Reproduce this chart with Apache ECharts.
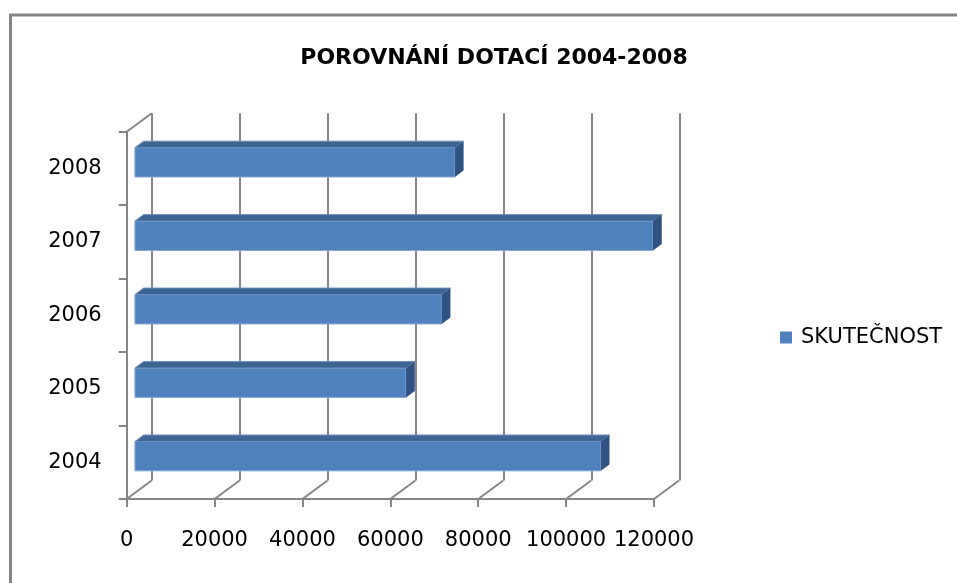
<!DOCTYPE html>
<html style="height: 100%; margin: 0">
<head>
<meta charset="UTF-8">
<title>POROVNÁNÍ DOTACÍ 2004-2008</title>
</head>
<body style="height: 100%; margin: 0; background: #fff">
<div id="container" style="width:957px;height:583px"></div>
<script type="text/javascript" src="https://cdn.jsdelivr.net/npm/echarts@6/dist/echarts.min.js"></script>
<script type="text/javascript">
	var categories = ['2004', '2005', '2006', '2007', '2008'];
	var values = [106000, 61700, 69800, 117900, 72800];
	var xTicks = [0, 20000, 40000, 60000, 80000, 100000, 120000];
	var seriesName = 'SKUTEČNOST';

	// depth of the 3D box (front plane -> back wall)
	var DX = 25, DY = -18.5;
	var F1 = 0.33, BD = 0.35;
	var gridColor = '#868686';
	var font = 'DejaVu Sans';

	var dom = document.getElementById("container");
	var myChart = echarts.init(dom);

	function barItem(params, api) {
		var v = api.value(0), c = api.value(1);
		var p0 = api.coord([0, c]);
		var p1 = api.coord([v, c]);
		var band = api.size([0, 1])[1];
		var h = band * 0.4;
		var x0 = p0[0] + DX * F1, x1 = p1[0] + DX * F1;
		var yT = p0[1] + DY * F1 - h / 2, yB = yT + h;
		var ddx = DX * BD, ddy = DY * BD;
		return {
			type: 'group',
			children: [{
				type: 'rect',
				shape: {x: x0, y: yT, width: x1 - x0, height: h},
				style: {fill: '#4F81BD', stroke: '#86A6D2', lineWidth: 1}
			}, {
				type: 'polygon',
				shape: {points: [[x0, yT], [x1, yT], [x1 + ddx, yT + ddy], [x0 + ddx, yT + ddy]]},
				style: {fill: '#3C6593', stroke: '#6F8FBC', lineWidth: 1}
			}, {
				type: 'polygon',
				shape: {points: [[x1, yT], [x1 + ddx, yT + ddy], [x1 + ddx, yB + ddy], [x1, yB]]},
				style: {fill: '#2F5283'}
			}]
		};
	}

	function floorItem(params, api) {
		var p = api.coord([api.value(0), 0]);
		var band = api.size([0, 1])[1];
		var y = p[1] + band / 2;
		return {
			type: 'line',
			shape: {x1: p[0], y1: y, x2: p[0] + DX, y2: y + DY},
			style: {stroke: gridColor, lineWidth: 2}
		};
	}

	function wallTopItem(params, api) {
		var p = api.coord([0, api.value(1)]);
		var band = api.size([0, 1])[1];
		var y = p[1] - band / 2;
		return {
			type: 'line',
			shape: {x1: p[0], y1: y, x2: p[0] + DX, y2: y + DY},
			style: {stroke: gridColor, lineWidth: 2}
		};
	}

	var option = {
		animation: false,
		backgroundColor: '#fff',
		textStyle: {fontFamily: font},
		title: {
			text: 'POROVNÁNÍ DOTACÍ 2004-2008',
			left: 489,
			textAlign: 'center',
			top: 42,
			textStyle: {fontFamily: font, fontSize: 22, fontWeight: 'bold', color: '#000'}
		},
		legend: {
			data: [{name: seriesName, icon: 'rect'}],
			left: 775,
			top: 322,
			itemWidth: 12,
			itemHeight: 12,
			textStyle: {fontFamily: font, fontSize: 21, color: '#000', padding: [0, 0, 0, 4]}
		},
		graphic: [{
			type: 'rect',
			shape: {x: 10.5, y: 15, width: 980, height: 620},
			style: {fill: 'none', stroke: gridColor, lineWidth: 3}
		}],
		grid: [
			{left: 126.7, right: 303, top: 131.7, bottom: 84},
			{left: 151.7, right: 277.7, top: 113.2, bottom: 102.5}
		],
		xAxis: [{
			gridIndex: 0,
			type: 'value',
			min: 0,
			max: 120000,
			interval: 20000,
			axisLine: {show: true, lineStyle: {color: gridColor, width: 2}},
			axisTick: {show: true, length: 8, lineStyle: {color: gridColor, width: 2}},
			axisLabel: {
				margin: 31, fontSize: 21, color: '#000', fontFamily: font,
				formatter: function (v) { return String(v); }
			},
			splitLine: {show: false}
		}, {
			gridIndex: 1,
			type: 'value',
			min: 0,
			max: 120000,
			interval: 20000,
			axisLine: {show: false},
			axisTick: {show: false},
			axisLabel: {show: false},
			splitLine: {show: true, lineStyle: {color: gridColor, width: 2}}
		}],
		yAxis: [{
			gridIndex: 0,
			type: 'category',
			data: categories,
			axisLine: {show: true, lineStyle: {color: gridColor, width: 2}},
			axisTick: {show: true, length: 8, lineStyle: {color: gridColor, width: 2}},
			axisLabel: {margin: 25, fontSize: 21, color: '#000', fontFamily: font},
			splitLine: {show: false}
		}, {
			gridIndex: 1,
			type: 'category',
			data: categories,
			show: false
		}],
		series: [{
			name: 'floor',
			type: 'custom',
			xAxisIndex: 0,
			yAxisIndex: 0,
			renderItem: floorItem,
			encode: {x: 0, y: 1},
			data: xTicks.map(function (v) { return [v, 0]; }),
			silent: true,
			clip: false
		}, {
			name: 'wall',
			type: 'custom',
			xAxisIndex: 0,
			yAxisIndex: 0,
			renderItem: wallTopItem,
			encode: {x: 0, y: 1},
			data: [[0, categories.length - 1]],
			silent: true,
			clip: false
		}, {
			name: seriesName,
			type: 'custom',
			xAxisIndex: 0,
			yAxisIndex: 0,
			renderItem: barItem,
			encode: {x: 0, y: 1},
			itemStyle: {color: '#4F81BD'},
			data: values.map(function (v, i) { return [v, i]; }),
			clip: false
		}]
	};
	myChart.setOption(option, true);
</script>
</body>
</html>
